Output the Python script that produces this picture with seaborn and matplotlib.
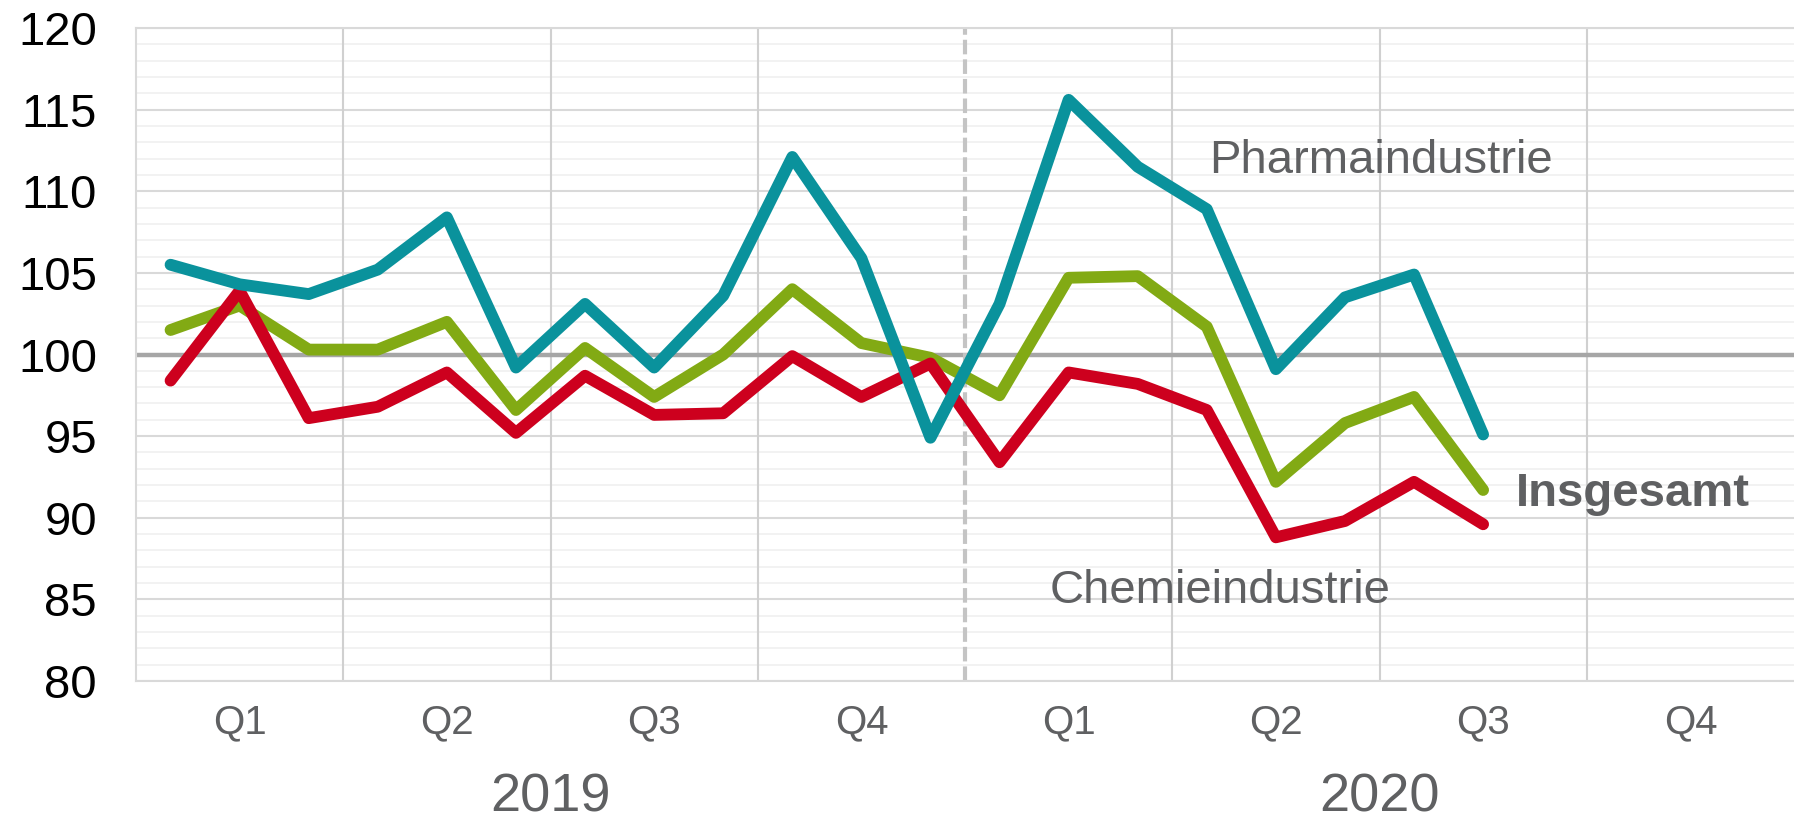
import matplotlib
matplotlib.use("Agg")
import matplotlib.pyplot as plt
import matplotlib.transforms as mtransforms
from matplotlib.ticker import MultipleLocator
import pandas as pd
import seaborn as sns

# ==================== DATA ====================
# Monatswerte Jan 2019 .. Aug 2020 (Index 2019 = 100)
months = list(range(20))
pharma = [105.5, 104.3, 103.7, 105.2, 108.4, 99.2, 103.1, 99.2, 103.6, 112.1,
          105.9, 94.9, 103.1, 115.6, 111.5, 108.9, 99.1, 103.5, 104.9, 95.1]
insgesamt = [101.5, 103.0, 100.3, 100.3, 102.0, 96.6, 100.4, 97.4, 100.0, 104.0,
             100.7, 99.8, 97.5, 104.7, 104.8, 101.7, 92.2, 95.8, 97.4, 91.7]
chemie = [98.4, 103.9, 96.1, 96.8, 98.9, 95.2, 98.7, 96.3, 96.4, 99.9,
          97.4, 99.45, 93.4, 98.9, 98.2, 96.6, 88.8, 89.8, 92.2, 89.6]

quarter_labels = ["Q1", "Q2", "Q3", "Q4", "Q1", "Q2", "Q3", "Q4"]
years = ["2019", "2020"]

TEAL = "#0a929c"
GREEN = "#82aa14"
RED = "#cd001e"
TEXT_GRAY = "#5f6062"

df = pd.DataFrame({
    "monat": months * 3,
    "wert": insgesamt + chemie + pharma,
    "reihe": ["Insgesamt"] * 20 + ["Chemieindustrie"] * 20 + ["Pharmaindustrie"] * 20,
})

# ==================== PLOT ====================
sns.set_style("white")
plt.rcParams["font.family"] = ["Liberation Sans", "DejaVu Sans"]

fig, ax = plt.subplots(figsize=(17.94, 8.23), dpi=100)
fig.subplots_adjust(left=136 / 1794, right=1.0, top=1 - 28 / 823, bottom=1 - 681 / 823)

# grid
ax.yaxis.set_major_locator(MultipleLocator(5))
ax.yaxis.set_minor_locator(MultipleLocator(1))
ax.grid(which="major", axis="y", color="#d9d9d9", lw=1.5, zorder=0)
ax.grid(which="minor", axis="y", color="#f0f0f0", lw=1.2, zorder=0)
ax.grid(False, axis="x")
ax.set_axisbelow(True)

for xb in [2.5, 5.5, 8.5, 14.5, 17.5, 20.5]:
    ax.axvline(xb, color="#d0d0d0", lw=1.5, zorder=1)
ax.axhline(100, color="#a6a6a6", lw=3.2, zorder=1)
ax.axvline(11.5, color="#c4c4c4", lw=3, ls=(0, (3.5, 1.2)), zorder=2)

n_before = len(ax.lines)
sns.lineplot(data=df, x="monat", y="wert", hue="reihe",
             hue_order=["Insgesamt", "Chemieindustrie", "Pharmaindustrie"],
             palette=[GREEN, RED, TEAL], legend=False, ax=ax, zorder=3)
for ln in ax.lines[n_before:]:
    ln.set_linewidth(8.5)
    ln.set_solid_capstyle("round")
    ln.set_solid_joinstyle("round")

ax.set_xlim(-0.5, 23.5)
ax.set_ylim(80, 120)

ax.set_xticks([1, 4, 7, 10, 13, 16, 19, 22])
ax.set_xticklabels(quarter_labels, fontsize=29, color=TEXT_GRAY)
ax.tick_params(axis="x", length=0, pad=16)
ax.tick_params(axis="y", which="both", length=0, pad=28, labelsize=34, labelcolor="black")
ax.set_xlabel("")
ax.set_ylabel("")

for side in ["top", "left", "bottom"]:
    ax.spines[side].set_color("#d9d9d9")
    ax.spines[side].set_linewidth(1.5)
ax.spines["right"].set_visible(False)

# Jahre unter den Quartalen
trans = mtransforms.blended_transform_factory(ax.transData, ax.transAxes)
ax.text(5.5, -0.178, years[0], transform=trans, ha="center", va="center",
        fontsize=39, color=TEXT_GRAY)
ax.text(17.5, -0.178, years[1], transform=trans, ha="center", va="center",
        fontsize=39, color=TEXT_GRAY)

# Beschriftungen der Reihen
ax.text(15.03, 111.1, "Pharmaindustrie", ha="left", va="baseline",
        fontsize=34, color=TEXT_GRAY, zorder=5)
ax.text(12.73, 84.8, "Chemieindustrie", ha="left", va="baseline",
        fontsize=34, color=TEXT_GRAY, zorder=5)
ax.text(19.47, 90.75, "Insgesamt", ha="left", va="baseline",
        fontsize=34, fontweight="bold", color=TEXT_GRAY, zorder=5)

plt.savefig("out.png", dpi=100)
plt.close()
